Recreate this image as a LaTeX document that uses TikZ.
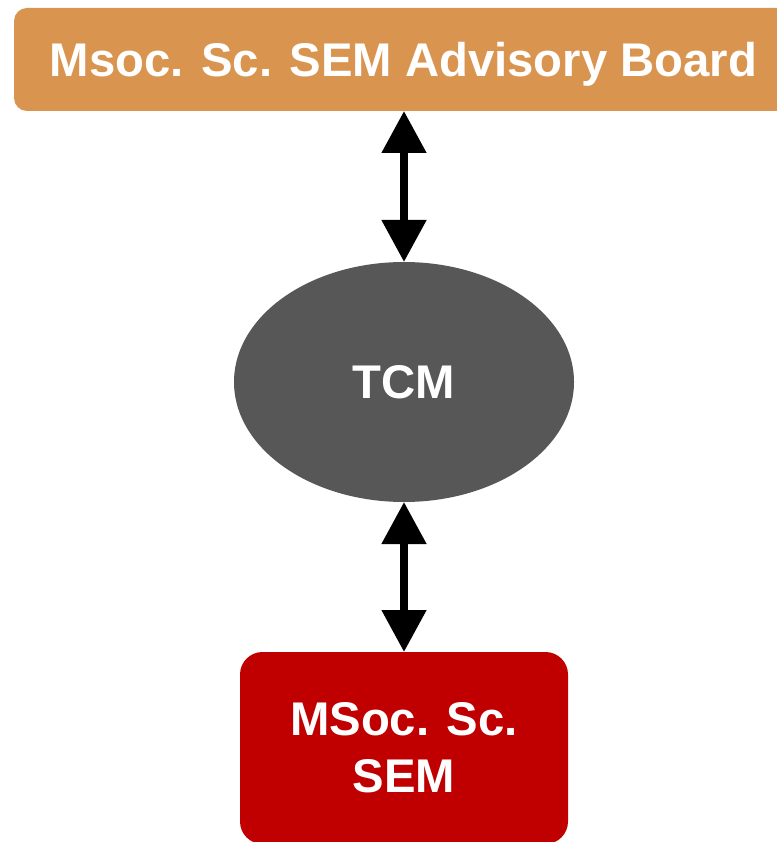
\documentclass[tikz,border=0pt]{standalone}
\usepackage{fontspec}
\setmainfont{Liberation Sans}
\usepackage{tikz}
\usetikzlibrary{shapes.geometric,arrows.meta}
\definecolor{boardorange}{HTML}{D9944F}
\definecolor{tcmgray}{HTML}{575757}
\definecolor{semred}{HTML}{C00000}

\begin{document}
\begin{tikzpicture}[
        box/.style={rounded corners=0.26cm, inner sep=0pt, outer sep=0pt, text=white,
                font=\fontsize{26.9pt}{32.4pt}\selectfont\bfseries, align=center},
        link/.style={line width=0.16cm, {Triangle[width=0.86cm,length=0.84cm]}-{Triangle[width=0.86cm,length=0.84cm]}}]
        \useasboundingbox (0cm, 0cm) rectangle (15.52cm, -16.84cm);
        \node (board) [box, fill=boardorange, text depth=0pt, minimum width=15.58cm, minimum height=2.06cm] at (8.07cm, -1.19cm) {Msoc. Sc. SEM Advisory Board};
        \node (tcm) [box, ellipse, fill=tcmgray, minimum width=6.8cm, minimum height=4.8cm] at (8.08cm, -7.64cm) {TCM};
        \node (sem) [box, rounded corners=0.45cm, fill=semred, minimum width=6.56cm, minimum height=3.84cm] at (8.08cm, -14.96cm) {MSoc. Sc.\\SEM};
        \draw [link] (tcm.north |- board.south) -- (tcm.north);
        \draw [link] (tcm.south) -- (sem.north);
\end{tikzpicture}
\end{document}
